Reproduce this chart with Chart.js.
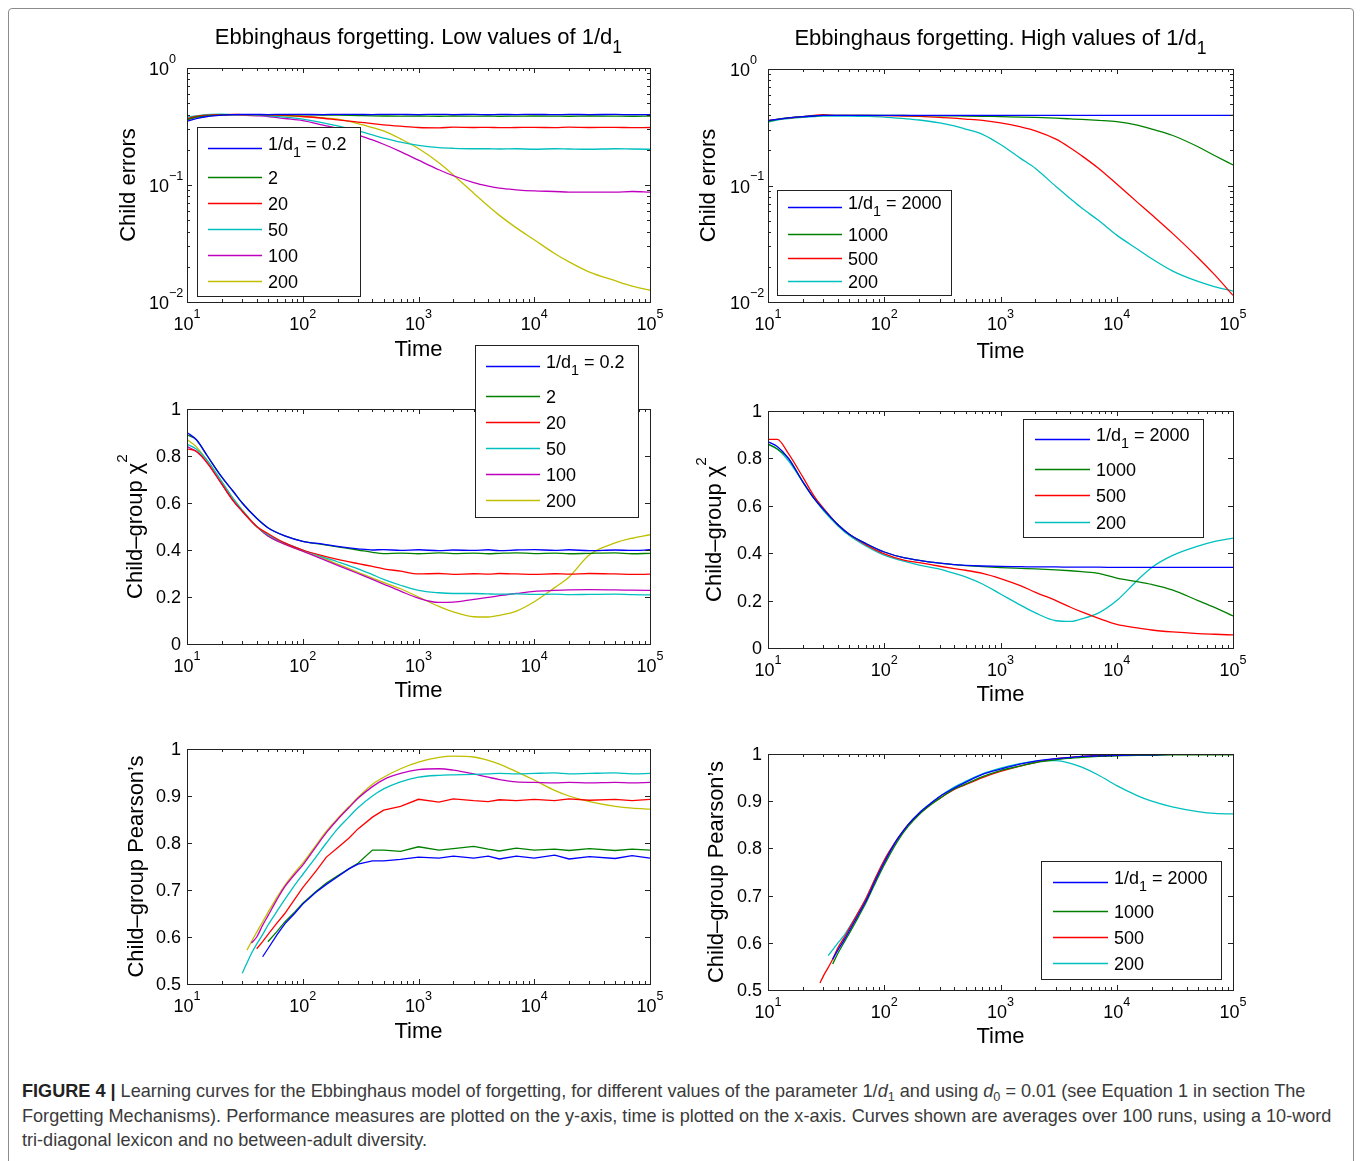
<!DOCTYPE html>
<html>
<head>
<meta charset="utf-8">
<script src="https://cdn.jsdelivr.net/npm/chart.js@4.4.1/dist/chart.umd.min.js"></script>
<style>
  html, body { margin: 0; padding: 0; background: #fff; }
  #fig { position: relative; width: 1360px; height: 1161px; overflow: hidden; }
  #frame { position: absolute; left: 8px; top: 8px; width: 1346px; height: 1200px; border: 1.5px solid #8c8c8c; border-radius: 4px; box-sizing: border-box; }
  canvas { position: absolute; }
  #caption { position: absolute; left: 22px; top: 1079px; font-family: "Liberation Sans", Arial, sans-serif; font-size: 18.1px; line-height: 24.5px; color: #3a3a3a; white-space: nowrap; }
  #caption b { color: #222; }
  #caption sub { font-size: 70%; vertical-align: -0.3em; line-height: 0; }
</style>
</head>
<body>
<div id="fig">
  <div id="frame"></div>
  <canvas id="tl" width="590" height="360" style="left:90px;top:10px"></canvas>
  <canvas id="tr" width="600" height="360" style="left:680px;top:10px"></canvas>
  <canvas id="ml" width="590" height="390" style="left:90px;top:330px"></canvas>
  <canvas id="mr" width="600" height="390" style="left:680px;top:330px"></canvas>
  <canvas id="bl" width="590" height="340" style="left:90px;top:720px"></canvas>
  <canvas id="br" width="600" height="340" style="left:680px;top:720px"></canvas>
  <div id="caption"><b>FIGURE 4 |</b> Learning curves for the Ebbinghaus model of forgetting, for different values of the parameter 1/<i>d</i><sub>1</sub> and using <i>d</i><sub>0</sub> = 0.01 (see Equation 1 in section The<br>Forgetting Mechanisms). Performance measures are plotted on the y-axis, time is plotted on the x-axis. Curves shown are averages over 100 runs, using a 10-word<br>tri-diagonal lexicon and no between-adult diversity.</div>
</div>
<script>
// time grids (x values)
const timeA = [10, 12, 15, 20, 25, 30, 40, 50, 70, 100, 150, 200, 300, 400, 500, 700,
  1000, 1500, 2000, 3000, 4000, 5000, 7000, 10000, 15000, 20000, 30000, 50000, 70000, 100000];
const timeP = [28, 30, 33, 36, 40, 45, 50, 60, 70, 85, 100, 130, 160, 200, 250, 300, 400, 500, 700,
  1000, 1500, 2000, 3000, 4000, 5000, 7000, 10000, 15000, 20000, 30000, 50000, 70000, 100000];

// axis ticks
const xTickValues = [10, 100, 1000, 10000, 100000];
const xTickExps = ['1', '2', '3', '4', '5'];
const errTickValues = [1, 0.1, 0.01];
const errTickExps = ['0', '\u22121', '\u22122'];
const chiTickValues = [0, 0.2, 0.4, 0.6, 0.8, 1];
const chiTickLabels = ['0', '0.2', '0.4', '0.6', '0.8', '1'];
const pearTickValues = [0.5, 0.6, 0.7, 0.8, 0.9, 1];
const pearTickLabels = ['0.5', '0.6', '0.7', '0.8', '0.9', '1'];
const minorSteps = [2, 3, 4, 5, 6, 7, 8, 9];

// legends
const lowLabels = ['0.2', '2', '20', '50', '100', '200'];
const highLabels = ['2000', '1000', '500', '200'];
const lowColors = ['#0000ff', '#008000', '#ff0000', '#00bfbf', '#bf00bf', '#bfbf00'];
const highColors = ['#0000ff', '#008000', '#ff0000', '#00bfbf'];

// child errors, low 1/d1
const errLowBlue = [0.35, 0.37, 0.385, 0.395, 0.40, 0.402, 0.401, 0.40, 0.402, 0.401, 0.40, 0.402, 0.401, 0.40, 0.402, 0.401,
  0.40, 0.402, 0.40, 0.401, 0.399, 0.401, 0.40, 0.402, 0.399, 0.401, 0.40, 0.401, 0.399, 0.40];
const errLowGreen = [0.36, 0.38, 0.39, 0.398, 0.40, 0.40, 0.40, 0.40, 0.399, 0.398, 0.396, 0.395, 0.392, 0.39, 0.389, 0.388,
  0.389, 0.387, 0.389, 0.388, 0.389, 0.387, 0.388, 0.389, 0.388, 0.387, 0.389, 0.388, 0.387, 0.389];
const errLowRed = [0.37, 0.385, 0.395, 0.40, 0.402, 0.40, 0.40, 0.398, 0.393, 0.385, 0.372, 0.36, 0.345, 0.335, 0.327, 0.318,
  0.31, 0.308, 0.312, 0.31, 0.311, 0.309, 0.31, 0.311, 0.309, 0.312, 0.31, 0.311, 0.309, 0.31];
const errLowCyan = [0.38, 0.39, 0.40, 0.403, 0.40, 0.40, 0.395, 0.39, 0.38, 0.365, 0.34, 0.32, 0.29, 0.268, 0.252, 0.232,
  0.218, 0.209, 0.206, 0.204, 0.204, 0.203, 0.204, 0.202, 0.204, 0.203, 0.202, 0.204, 0.203, 0.202];
const errLowMagenta = [0.36, 0.38, 0.39, 0.395, 0.398, 0.395, 0.39, 0.385, 0.37, 0.355, 0.325, 0.305, 0.268, 0.243, 0.223, 0.193,
  0.163, 0.135, 0.12, 0.105, 0.098, 0.094, 0.091, 0.089, 0.088, 0.087, 0.087, 0.087, 0.088, 0.087];
const errLowYellow = [0.37, 0.385, 0.395, 0.40, 0.40, 0.40, 0.397, 0.395, 0.39, 0.385, 0.375, 0.365, 0.335, 0.31, 0.29, 0.248,
  0.205, 0.155, 0.122, 0.085, 0.066, 0.055, 0.043, 0.034, 0.026, 0.022, 0.018, 0.0152, 0.0137, 0.0126];

// child errors, high 1/d1
const errHighBlue = [0.36, 0.37, 0.38, 0.39, 0.395, 0.40, 0.40, 0.40, 0.40, 0.40, 0.40, 0.40, 0.40, 0.40, 0.40, 0.40,
  0.40, 0.40, 0.40, 0.40, 0.40, 0.40, 0.40, 0.40, 0.40, 0.40, 0.40, 0.40, 0.40, 0.40];
const errHighGreen = [0.355, 0.37, 0.38, 0.39, 0.395, 0.40, 0.40, 0.40, 0.40, 0.40, 0.399, 0.398, 0.397, 0.396, 0.395, 0.393,
  0.39, 0.387, 0.384, 0.378, 0.373, 0.369, 0.362, 0.353, 0.33, 0.305, 0.27, 0.215, 0.18, 0.15];
const errHighRed = [0.36, 0.37, 0.38, 0.39, 0.40, 0.405, 0.40, 0.40, 0.40, 0.398, 0.395, 0.392, 0.385, 0.378, 0.372, 0.362,
  0.345, 0.318, 0.295, 0.25, 0.21, 0.18, 0.14, 0.103, 0.072, 0.056, 0.039, 0.024, 0.017, 0.0114];
const errHighCyan = [0.35, 0.365, 0.375, 0.385, 0.39, 0.395, 0.395, 0.395, 0.392, 0.387, 0.375, 0.365, 0.345, 0.325, 0.305, 0.275,
  0.225, 0.17, 0.14, 0.098, 0.077, 0.064, 0.05, 0.0375, 0.0285, 0.0235, 0.0185, 0.015, 0.0135, 0.0124];

// chi-square, low 1/d1
const chiLowBlue = [0.90, 0.87, 0.80, 0.71, 0.65, 0.60, 0.535, 0.495, 0.46, 0.437, 0.425, 0.415, 0.405, 0.40, 0.402, 0.398,
  0.401, 0.397, 0.40, 0.398, 0.401, 0.397, 0.40, 0.402, 0.398, 0.401, 0.397, 0.40, 0.398, 0.401];
const chiLowGreen = [0.89, 0.87, 0.80, 0.71, 0.65, 0.60, 0.535, 0.495, 0.46, 0.437, 0.423, 0.413, 0.40, 0.39, 0.385, 0.387,
  0.384, 0.388, 0.385, 0.387, 0.384, 0.386, 0.388, 0.385, 0.387, 0.384, 0.386, 0.388, 0.384, 0.386];
const chiLowRed = [0.83, 0.82, 0.77, 0.68, 0.61, 0.565, 0.50, 0.47, 0.43, 0.40, 0.375, 0.36, 0.342, 0.33, 0.32, 0.31,
  0.298, 0.30, 0.296, 0.299, 0.297, 0.30, 0.298, 0.296, 0.299, 0.297, 0.30, 0.298, 0.296, 0.297];
const chiLowCyan = [0.85, 0.83, 0.78, 0.69, 0.62, 0.57, 0.50, 0.465, 0.43, 0.40, 0.37, 0.35, 0.32, 0.295, 0.275, 0.25,
  0.228, 0.218, 0.215, 0.215, 0.213, 0.212, 0.213, 0.211, 0.212, 0.21, 0.211, 0.212, 0.21, 0.209];
const chiLowMagenta = [0.84, 0.82, 0.77, 0.68, 0.61, 0.565, 0.50, 0.46, 0.425, 0.395, 0.36, 0.335, 0.30, 0.275, 0.255, 0.225,
  0.195, 0.177, 0.178, 0.19, 0.198, 0.206, 0.215, 0.224, 0.228, 0.23, 0.231, 0.23, 0.229, 0.228];
const chiLowYellow = [0.87, 0.84, 0.78, 0.69, 0.62, 0.57, 0.50, 0.46, 0.425, 0.395, 0.365, 0.34, 0.305, 0.28, 0.262, 0.235,
  0.20, 0.16, 0.137, 0.116, 0.115, 0.122, 0.14, 0.18, 0.24, 0.285, 0.38, 0.43, 0.45, 0.465];

// chi-square, high 1/d1
const chiHighBlue = [0.87, 0.85, 0.80, 0.70, 0.63, 0.585, 0.52, 0.48, 0.44, 0.405, 0.38, 0.37, 0.358, 0.352, 0.349, 0.346,
  0.344, 0.343, 0.342, 0.342, 0.341, 0.341, 0.341, 0.34, 0.34, 0.34, 0.34, 0.34, 0.34, 0.34];
const chiHighGreen = [0.86, 0.84, 0.80, 0.70, 0.63, 0.585, 0.52, 0.48, 0.44, 0.405, 0.38, 0.37, 0.358, 0.352, 0.348, 0.343,
  0.339, 0.336, 0.334, 0.33, 0.326, 0.322, 0.315, 0.295, 0.28, 0.268, 0.245, 0.20, 0.17, 0.135];
const chiHighRed = [0.88, 0.88, 0.82, 0.72, 0.64, 0.59, 0.52, 0.48, 0.435, 0.397, 0.37, 0.36, 0.345, 0.335, 0.328, 0.315,
  0.293, 0.262, 0.235, 0.20, 0.172, 0.152, 0.125, 0.10, 0.085, 0.076, 0.068, 0.061, 0.058, 0.055];
const chiHighCyan = [0.86, 0.84, 0.79, 0.70, 0.63, 0.58, 0.515, 0.475, 0.43, 0.392, 0.365, 0.35, 0.333, 0.315, 0.30, 0.27,
  0.228, 0.18, 0.148, 0.115, 0.112, 0.123, 0.148, 0.20, 0.285, 0.34, 0.39, 0.43, 0.45, 0.464];

// Pearson, low 1/d1
const pearLowBlue = [null, null, null, null, null, 0.558, 0.575, 0.605, 0.628, 0.65, 0.67, 0.695, 0.712, 0.728, 0.745, 0.755,
  0.762, 0.762, 0.765, 0.77, 0.768, 0.772, 0.768, 0.772, 0.766, 0.772, 0.768, 0.774, 0.766, 0.771, 0.767, 0.773, 0.768];
const pearLowGreen = [null, null, null, null, null, null, 0.59, 0.612, 0.632, 0.653, 0.672, 0.697, 0.715, 0.73, 0.745, 0.757,
  0.785, 0.785, 0.782, 0.792, 0.785, 0.788, 0.793, 0.787, 0.783, 0.789, 0.785, 0.787, 0.784, 0.788, 0.784, 0.787, 0.785];
const pearLowRed = [null, null, null, null, 0.575, 0.59, 0.605, 0.63, 0.65, 0.68, 0.705, 0.74, 0.77, 0.79, 0.81, 0.83,
  0.855, 0.87, 0.878, 0.893, 0.887, 0.894, 0.89, 0.888, 0.892, 0.89, 0.893, 0.89, 0.894, 0.891, 0.893, 0.89, 0.893];
const pearLowCyan = [null, 0.523, 0.545, 0.565, 0.585, 0.605, 0.625, 0.655, 0.68, 0.71, 0.733, 0.77, 0.80, 0.83, 0.855, 0.875,
  0.90, 0.915, 0.93, 0.94, 0.944, 0.945, 0.946, 0.947, 0.948, 0.947, 0.948, 0.949, 0.947, 0.948, 0.949, 0.947, 0.948];
const pearLowMagenta = [null, null, null, 0.587, 0.60, 0.625, 0.645, 0.68, 0.707, 0.733, 0.753, 0.792, 0.822, 0.85, 0.875, 0.895,
  0.92, 0.935, 0.948, 0.956, 0.958, 0.955, 0.947, 0.94, 0.935, 0.93, 0.929, 0.928, 0.929, 0.928, 0.929, 0.928, 0.929];
const pearLowYellow = [null, null, 0.572, 0.59, 0.61, 0.632, 0.652, 0.685, 0.71, 0.737, 0.757, 0.795, 0.825, 0.852, 0.877, 0.897,
  0.925, 0.94, 0.958, 0.972, 0.982, 0.985, 0.983, 0.976, 0.968, 0.952, 0.934, 0.912, 0.90, 0.888, 0.878, 0.874, 0.872];

// Pearson, high 1/d1
const pearHighBlue = [null, null, null, 0.565, 0.585, 0.605, 0.625, 0.66, 0.69, 0.735, 0.77, 0.82, 0.85, 0.875, 0.895, 0.91,
  0.928, 0.94, 0.957, 0.968, 0.979, 0.985, 0.99, 0.993, 0.995, 0.996, 0.997, 0.998, 0.998, 0.999, 0.999, 0.999, 0.999];
const pearHighGreen = [null, null, null, 0.555, 0.578, 0.60, 0.62, 0.655, 0.686, 0.73, 0.765, 0.815, 0.846, 0.872, 0.892, 0.906,
  0.926, 0.936, 0.952, 0.965, 0.975, 0.982, 0.988, 0.991, 0.993, 0.995, 0.996, 0.997, 0.997, 0.998, 0.998, 0.998, 0.998];
const pearHighRed = [0.515, 0.53, 0.548, 0.565, 0.59, 0.61, 0.63, 0.665, 0.695, 0.74, 0.775, 0.82, 0.85, 0.873, 0.893, 0.906,
  0.925, 0.935, 0.95, 0.963, 0.975, 0.982, 0.99, 0.993, 0.995, 0.997, 0.998, 0.999, 0.999, 0.999, 1.0, 1.0, 1.0];
const pearHighCyan = [null, null, 0.573, 0.585, 0.60, 0.615, 0.633, 0.665, 0.695, 0.74, 0.775, 0.82, 0.85, 0.875, 0.895, 0.91,
  0.93, 0.942, 0.958, 0.97, 0.98, 0.985, 0.986, 0.98, 0.972, 0.955, 0.933, 0.912, 0.90, 0.888, 0.878, 0.874, 0.873];

const FONT = '"Liberation Sans", Arial, Helvetica, sans-serif';

function partSize(p, size) { return p.sub ? size * 0.8 : p.sup ? size * 0.7 : size; }
function partShift(p, size) { return p.sub ? size * 0.42 : p.sup ? -size * 0.68 : 0; }

function richWidth(ctx, parts, size) {
  let w = 0;
  parts.forEach(p => { ctx.font = partSize(p, size) + 'px ' + FONT; w += ctx.measureText(p.t).width; });
  return w;
}

// text with sub/superscript pieces, y is the baseline
function drawRich(ctx, parts, x, y, size, align) {
  let cx = x;
  const w = richWidth(ctx, parts, size);
  if (align === 'center') cx -= w / 2;
  if (align === 'right') cx -= w;
  ctx.textAlign = 'left';
  ctx.textBaseline = 'alphabetic';
  parts.forEach(p => {
    ctx.font = partSize(p, size) + 'px ' + FONT;
    ctx.fillText(p.t, cx, y + partShift(p, size));
    cx += ctx.measureText(p.t).width;
  });
}

// matlab-like boxed axes, inward ticks, titles and legend
const matlabAxes = {
  id: 'matlabAxes',
  afterDraw(chart, args, o) {
    const ctx = chart.ctx;
    const {left, right, top, bottom} = chart.chartArea;
    const xs = chart.scales.x, ys = chart.scales.y;
    const snap = v => Math.round(v) + 0.5;
    ctx.save();
    ctx.strokeStyle = '#222';
    ctx.lineWidth = 1;
    ctx.strokeRect(snap(left), snap(top), Math.round(right) - Math.round(left), Math.round(bottom) - Math.round(top));

    ctx.beginPath();
    const tickX = (v, len) => {
      const px = snap(xs.getPixelForValue(v));
      ctx.moveTo(px, bottom); ctx.lineTo(px, bottom - len);
      ctx.moveTo(px, top); ctx.lineTo(px, top + len);
    };
    const tickY = (v, len) => {
      const py = snap(ys.getPixelForValue(v));
      ctx.moveTo(left, py); ctx.lineTo(left + len, py);
      ctx.moveTo(right, py); ctx.lineTo(right - len, py);
    };
    xTickValues.forEach(v => tickX(v, 5));
    xTickValues.slice(0, -1).forEach(v => minorSteps.forEach(k => tickX(v * k, 3)));
    o.yTicks.forEach(v => tickY(v, 5));
    if (o.yLog) o.yTicks.slice(1).forEach(v => minorSteps.forEach(k => tickY(v * k, 3)));
    ctx.stroke();

    ctx.fillStyle = '#000';
    xTickValues.forEach((v, i) => {
      drawRich(ctx, [{t: '10'}, {t: xTickExps[i], sup: true}], xs.getPixelForValue(v), bottom + 28, 18, 'center');
    });
    o.yTicks.forEach((v, i) => {
      const py = ys.getPixelForValue(v);
      if (o.yLog) {
        drawRich(ctx, [{t: '10'}], left - 18, py + 7, 18, 'right');
        drawRich(ctx, [{t: o.yTickText[i], sup: true}], left - 18, py + 7, 18, 'left');
      } else {
        drawRich(ctx, [{t: o.yTickText[i]}], left - 6, py + 6, 18, 'right');
      }
    });

    if (o.title) drawRich(ctx, o.title, (left + right) / 2, top - 24, 22, 'center');
    drawRich(ctx, [{t: 'Time'}], (left + right) / 2, bottom + o.xTitleGap, 22, 'center');
    ctx.save();
    ctx.translate(left - o.yTitleGap, (top + bottom) / 2);
    ctx.rotate(-Math.PI / 2);
    drawRich(ctx, o.yTitle, 0, 8, 22, 'center');
    ctx.restore();

    const L = o.legend;
    if (L) {
      const bx = Math.round(left + L.x), by = Math.round(top + L.y);
      ctx.fillStyle = '#fff';
      ctx.fillRect(bx, by, L.w, L.h);
      ctx.strokeStyle = '#222';
      ctx.lineWidth = 1;
      ctx.strokeRect(bx + 0.5, by + 0.5, L.w, L.h);
      chart.data.datasets.forEach((ds, i) => {
        const ly = by + L.rows[i] + 0.5;
        ctx.strokeStyle = ds.borderColor;
        ctx.lineWidth = 1.3;
        ctx.beginPath();
        ctx.moveTo(bx + L.line[0], ly);
        ctx.lineTo(bx + L.line[1], ly);
        ctx.stroke();
        ctx.fillStyle = '#000';
        const parts = i === 0 ? [{t: '1/d'}, {t: '1', sub: true}, {t: ' = ' + ds.label}] : [{t: ds.label}];
        drawRich(ctx, parts, bx + L.line[1] + 6, i === 0 ? ly + 1 : ly + 6.5, 18, 'left');
      });
    }
    ctx.restore();
  }
};

function makePanel(id, time, series, labels, colors, yScale, opts) {
  const jagged = opts.jagged || [];
  return new Chart(document.getElementById(id), {
    type: 'line',
    data: {
      datasets: series.map((vals, i) => ({
        label: labels[i],
        data: time.map((t, j) => ({x: t, y: vals[j]})),
        borderColor: colors[i],
        borderWidth: 1.3,
        pointRadius: 0,
        fill: false,
        // noisy series are drawn as plain polylines
        cubicInterpolationMode: jagged.includes(i) ? 'default' : 'monotone',
        tension: 0
      }))
    },
    options: {
      responsive: false,
      animation: false,
      events: [],
      layout: {padding: opts.padding},
      plugins: {legend: {display: false}, tooltip: {enabled: false}, matlabAxes: opts},
      scales: {
        x: {type: 'logarithmic', min: 10, max: 100000, display: false},
        y: Object.assign({display: false}, yScale)
      }
    },
    plugins: [matlabAxes]
  });
}

const subTitle = word => [{t: 'Ebbinghaus forgetting. ' + word + ' values of 1/d'}, {t: '1', sub: true}];
const chiTitle = [{t: 'Child\u2013group \u03c7'}, {t: '2', sup: true}];
const pearTitle = [{t: 'Child\u2013group Pearson\u2019s'}];
const errTitle = [{t: 'Child errors'}];
const logY = {type: 'logarithmic', min: 0.01, max: 1};

makePanel('tl', timeA, [errLowBlue, errLowGreen, errLowRed, errLowCyan, errLowMagenta, errLowYellow], lowLabels, lowColors, logY, {
  padding: {left: 97, right: 30, top: 58, bottom: 68},
  title: subTitle('Low'), yTitle: errTitle, yTitleGap: 60, xTitleGap: 54,
  yLog: true, yTicks: errTickValues, yTickText: errTickExps,
  legend: {x: 10, y: 59, w: 163, h: 169, rows: [21, 50, 76, 102, 128, 154], line: [11, 65]}
});
makePanel('tr', timeA, [errHighBlue, errHighGreen, errHighRed, errHighCyan], highLabels, highColors, logY, {
  padding: {left: 88, right: 47, top: 59, bottom: 68},
  title: subTitle('High'), yTitle: errTitle, yTitleGap: 61, xTitleGap: 56,
  yLog: true, yTicks: errTickValues, yTickText: errTickExps,
  legend: {x: 9, y: 121, w: 174, h: 105, rows: [17, 44, 68, 91], line: [11, 65]}
});
makePanel('ml', timeA, [chiLowBlue, chiLowGreen, chiLowRed, chiLowCyan, chiLowMagenta, chiLowYellow], lowLabels, lowColors,
  {type: 'linear', min: 0, max: 1}, {
  padding: {left: 97, right: 30, top: 79, bottom: 76},
  yTitle: chiTitle, yTitleGap: 53, xTitleGap: 53,
  yLog: false, yTicks: chiTickValues, yTickText: chiTickLabels,
  legend: {x: 288, y: -64, w: 163, h: 172, rows: [21, 51, 77, 103, 129, 155], line: [11, 65]}
});
makePanel('mr', timeA, [chiHighBlue, chiHighGreen, chiHighRed, chiHighCyan], highLabels, highColors,
  {type: 'linear', min: 0, max: 1}, {
  padding: {left: 88, right: 47, top: 81, bottom: 72},
  yTitle: chiTitle, yTitleGap: 55, xTitleGap: 53,
  yLog: false, yTicks: chiTickValues, yTickText: chiTickLabels,
  legend: {x: 255, y: 8, w: 180, h: 118, rows: [20, 50, 76, 103], line: [12, 67]}
});
makePanel('bl', timeP, [pearLowBlue, pearLowGreen, pearLowRed, pearLowCyan, pearLowMagenta, pearLowYellow], lowLabels, lowColors,
  {type: 'linear', min: 0.5, max: 1}, {
  padding: {left: 97, right: 30, top: 29, bottom: 76},
  yTitle: pearTitle, yTitleGap: 52, xTitleGap: 54,
  yLog: false, yTicks: pearTickValues, yTickText: pearTickLabels,
  legend: null, jagged: [0, 1, 2]
});
makePanel('br', timeP, [pearHighBlue, pearHighGreen, pearHighRed, pearHighCyan], highLabels, highColors,
  {type: 'linear', min: 0.5, max: 1}, {
  padding: {left: 88, right: 47, top: 34, bottom: 70},
  yTitle: pearTitle, yTitleGap: 53, xTitleGap: 53,
  yLog: false, yTicks: pearTickValues, yTickText: pearTickLabels,
  legend: {x: 273, y: 107, w: 180, h: 118, rows: [21, 50, 76, 102], line: [12, 67]}
});
</script>
</body>
</html>
